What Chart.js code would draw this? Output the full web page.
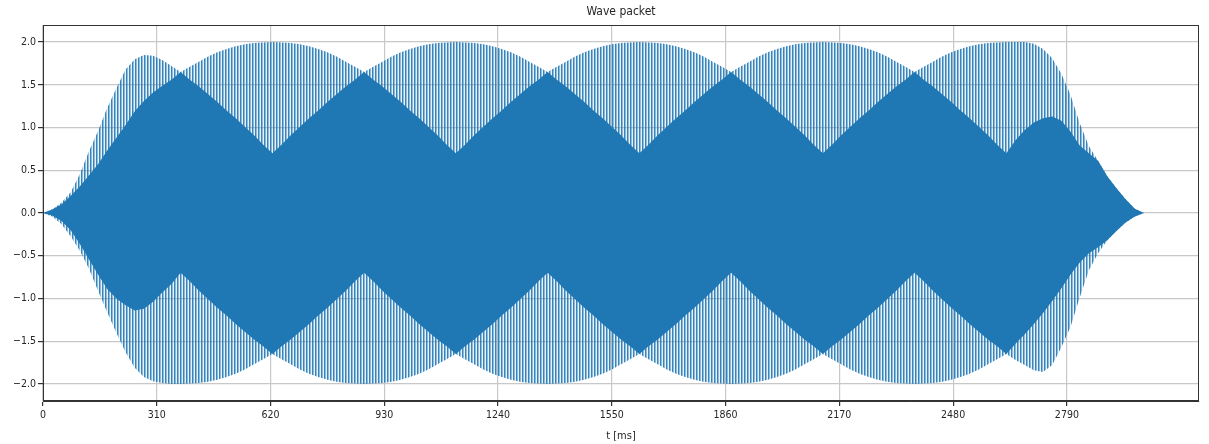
<!DOCTYPE html>
<html>
<head>
<meta charset="utf-8">
<title>Wave packet</title>
<script src="https://cdn.jsdelivr.net/npm/chart.js@4.4.1/dist/chart.umd.min.js"></script>
<style>
  html, body { margin: 0; padding: 0; background: #fff; }
  #wrap { width: 1209px; height: 444px; }
</style>
</head>
<body>
<div id="wrap"><canvas id="waveChart" width="1209" height="444"></canvas></div>
<script>
// sample times [ms]
const t = [0, 25, 50, 75, 100, 125, 150, 175, 200, 225, 250, 275, 300, 325, 350, 375, 400, 425, 450, 475,
  500, 525, 550, 575, 600, 625, 650, 675, 700, 725, 750, 775, 800, 825, 850, 875, 900, 925, 950, 975,
  1000, 1025, 1050, 1075, 1100, 1125, 1150, 1175, 1200, 1225, 1250, 1275, 1300, 1325, 1350, 1375, 1400, 1425, 1450, 1475,
  1500, 1525, 1550, 1575, 1600, 1625, 1650, 1675, 1700, 1725, 1750, 1775, 1800, 1825, 1850, 1875, 1900, 1925, 1950, 1975,
  2000, 2025, 2050, 2075, 2100, 2125, 2150, 2175, 2200, 2225, 2250, 2275, 2300, 2325, 2350, 2375, 2400, 2425, 2450, 2475,
  2500, 2525, 2550, 2575, 2600, 2625, 2650, 2675, 2700, 2725, 2750, 2775, 2800, 2825, 2850, 2875, 2900, 2925, 2950, 2975,
  3000];

// upper edge of the oscillation (peaks reached by every other cycle)
const topOuter = [0, 0.04, 0.12, 0.24, 0.45, 0.72, 0.96, 1.23, 1.46, 1.68, 1.80, 1.85, 1.84, 1.79, 1.72, 1.65,
  1.71, 1.77, 1.83, 1.88, 1.92, 1.95, 1.975, 1.99, 1.995, 2.0, 1.995, 1.99, 1.975, 1.95, 1.92, 1.88, 1.83, 1.77, 1.71, 1.65,
  1.71, 1.77, 1.83, 1.88, 1.92, 1.95, 1.975, 1.99, 1.995, 2.0, 1.995, 1.99, 1.975, 1.95, 1.92, 1.88, 1.83, 1.77, 1.71, 1.65,
  1.71, 1.77, 1.83, 1.88, 1.92, 1.95, 1.975, 1.99, 1.995, 2.0, 1.995, 1.99, 1.975, 1.95, 1.92, 1.88, 1.83, 1.77, 1.71, 1.65,
  1.71, 1.77, 1.83, 1.88, 1.92, 1.95, 1.975, 1.99, 1.995, 2.0, 1.995, 1.99, 1.975, 1.95, 1.92, 1.88, 1.83, 1.77, 1.71, 1.65,
  1.71, 1.77, 1.83, 1.88, 1.92, 1.95, 1.975, 1.99, 1.995, 2.0,
  2.0, 2.0, 1.98, 1.92, 1.81, 1.63, 1.38, 1.05, 0.78, 0.61, 0.43, 0.29, 0.16, 0.05, 0];

// upper edge reached by every cycle (dense part)
const topInner = [0, 0.04, 0.10, 0.20, 0.31, 0.44, 0.57, 0.73, 0.88, 1.03, 1.19, 1.31, 1.41, 1.49, 1.56, 1.65,
  1.56, 1.48, 1.39, 1.30, 1.20, 1.11, 1.01, 0.91, 0.80, 0.70, 0.80, 0.91, 1.01, 1.11, 1.20, 1.30, 1.39, 1.48, 1.56, 1.65,
  1.56, 1.48, 1.39, 1.30, 1.20, 1.11, 1.01, 0.91, 0.80, 0.70, 0.80, 0.91, 1.01, 1.11, 1.20, 1.30, 1.39, 1.48, 1.56, 1.65,
  1.56, 1.48, 1.39, 1.30, 1.20, 1.11, 1.01, 0.91, 0.80, 0.70, 0.80, 0.91, 1.01, 1.11, 1.20, 1.30, 1.39, 1.48, 1.56, 1.65,
  1.56, 1.48, 1.39, 1.30, 1.20, 1.11, 1.01, 0.91, 0.80, 0.70, 0.80, 0.91, 1.01, 1.11, 1.20, 1.30, 1.39, 1.48, 1.56, 1.65,
  1.56, 1.48, 1.39, 1.30, 1.20, 1.11, 1.01, 0.91, 0.80, 0.70,
  0.85, 0.97, 1.06, 1.11, 1.13, 1.08, 0.95, 0.79, 0.70, 0.61, 0.43, 0.29, 0.16, 0.05, 0];

// lower edge reached by every cycle
const bottomInner = [0, -0.03, -0.09, -0.20, -0.36, -0.54, -0.72, -0.89, -1.00, -1.08, -1.14, -1.12, -1.04, -0.93, -0.83, -0.70,
  -0.80, -0.91, -1.01, -1.11, -1.20, -1.30, -1.39, -1.48, -1.56, -1.65,
  -1.56, -1.48, -1.39, -1.30, -1.20, -1.11, -1.01, -0.91, -0.80, -0.70, -0.80, -0.91, -1.01, -1.11, -1.20, -1.30, -1.39, -1.48, -1.56, -1.65,
  -1.56, -1.48, -1.39, -1.30, -1.20, -1.11, -1.01, -0.91, -0.80, -0.70, -0.80, -0.91, -1.01, -1.11, -1.20, -1.30, -1.39, -1.48, -1.56, -1.65,
  -1.56, -1.48, -1.39, -1.30, -1.20, -1.11, -1.01, -0.91, -0.80, -0.70, -0.80, -0.91, -1.01, -1.11, -1.20, -1.30, -1.39, -1.48, -1.56, -1.65,
  -1.56, -1.48, -1.39, -1.30, -1.20, -1.11, -1.01, -0.91, -0.80, -0.70, -0.80, -0.91, -1.01, -1.11, -1.20, -1.30, -1.39, -1.48, -1.56, -1.65,
  -1.53, -1.42, -1.30, -1.17, -1.03, -0.88, -0.72, -0.58, -0.47, -0.40, -0.32, -0.21, -0.11, -0.04, 0];

// lower edge of the oscillation
const bottomOuter = [0, -0.04, -0.13, -0.27, -0.44, -0.65, -0.91, -1.16, -1.40, -1.63, -1.81, -1.92, -1.97, -1.99, -2.0, -2.0,
  -1.995, -1.99, -1.975, -1.95, -1.92, -1.88, -1.83, -1.77, -1.71, -1.65,
  -1.71, -1.77, -1.83, -1.88, -1.92, -1.95, -1.975, -1.99, -1.995, -2.0, -1.995, -1.99, -1.975, -1.95, -1.92, -1.88, -1.83, -1.77, -1.71, -1.65,
  -1.71, -1.77, -1.83, -1.88, -1.92, -1.95, -1.975, -1.99, -1.995, -2.0, -1.995, -1.99, -1.975, -1.95, -1.92, -1.88, -1.83, -1.77, -1.71, -1.65,
  -1.71, -1.77, -1.83, -1.88, -1.92, -1.95, -1.975, -1.99, -1.995, -2.0, -1.995, -1.99, -1.975, -1.95, -1.92, -1.88, -1.83, -1.77, -1.71, -1.65,
  -1.71, -1.77, -1.83, -1.88, -1.92, -1.95, -1.975, -1.99, -1.995, -2.0, -1.995, -1.99, -1.975, -1.95, -1.92, -1.88, -1.83, -1.77, -1.71, -1.65,
  -1.72, -1.78, -1.84, -1.86, -1.78, -1.57, -1.33, -0.99, -0.67, -0.47, -0.32, -0.21, -0.11, -0.04, 0];

const xTicks = [0, 310, 620, 930, 1240, 1550, 1860, 2170, 2480, 2790];
const yTicks = [-2.0, -1.5, -1.0, -0.5, 0.0, 0.5, 1.0, 1.5, 2.0];

const FONT = "'DejaVu Sans Condensed', 'DejaVu Sans', sans-serif";
Chart.defaults.font.family = FONT;
Chart.defaults.color = '#262626';

const canvas = document.getElementById('waveChart');
const ctx = canvas.getContext('2d');

// vertical stripes for the half-covered parts of the packet
const pc = document.createElement('canvas');
pc.width = 3; pc.height = 1;
const pctx = pc.getContext('2d');
pctx.fillStyle = 'rgba(31,119,180,0.9)'; pctx.fillRect(0, 0, 1, 1);
pctx.fillStyle = 'rgba(31,119,180,0.5)'; pctx.fillRect(1, 0, 1, 1);
pctx.fillStyle = 'rgba(31,119,180,0.1)'; pctx.fillRect(2, 0, 1, 1);
const stripes = ctx.createPattern(pc, 'repeat');

const pts = vals => t.map((x, i) => ({ x, y: vals[i] }));

// frame + title centred over the plot area
const framePlugin = {
  id: 'frame',
  afterDatasetsDraw(chart) {
    const { ctx, chartArea: a } = chart;
    ctx.save();
    ctx.strokeStyle = '#333';
    ctx.lineWidth = 1;
    ctx.strokeRect(a.left + 0.5, a.top + 0.5, a.right - a.left - 1, a.bottom - a.top - 1);
    ctx.font = '12px ' + FONT;
    ctx.fillStyle = '#262626';
    ctx.textAlign = 'center';
    ctx.textBaseline = 'middle';
    ctx.fillText('Wave packet', (a.left + a.right) / 2, 12);
    ctx.restore();
  }
};

new Chart(ctx, {
  type: 'line',
  data: {
    datasets: [
      { label: 'inner top', data: pts(topInner), fill: '+1', backgroundColor: '#1f77b4' },
      { label: 'inner bottom', data: pts(bottomInner), fill: false },
      { label: 'outer top', data: pts(topOuter), fill: '+1', backgroundColor: stripes },
      { label: 'outer bottom', data: pts(bottomOuter), fill: false }
    ]
  },
  options: {
    responsive: false,
    animation: false,
    devicePixelRatio: 1,
    layout: { padding: { top: 25, right: 10, left: 0, bottom: 0 } },
    elements: {
      point: { radius: 0 },
      line: { borderWidth: 0, borderColor: 'rgba(0,0,0,0)', tension: 0 }
    },
    plugins: {
      legend: { display: false },
      tooltip: { enabled: false },
      title: { display: false }
    },
    scales: {
      x: {
        type: 'linear',
        min: 0,
        max: 3150,
        afterBuildTicks: s => { s.ticks = xTicks.map(v => ({ value: v })); },
        afterFit: s => { s.height = 43; },
        grid: { color: '#c8c8c8', lineWidth: 1.2, tickLength: 5, tickColor: '#333' },
        border: { display: true, color: '#333', width: 1 },
        ticks: { font: { size: 10.5 }, padding: 3, maxRotation: 0, autoSkip: false, callback: v => String(v) },
        title: { display: true, text: 't [ms]', font: { size: 11 }, padding: { top: 0, bottom: 1 } }
      },
      y: {
        min: -2.2,
        max: 2.2,
        afterBuildTicks: s => { s.ticks = yTicks.map(v => ({ value: v })); },
        afterFit: s => { s.width = 43; },
        grid: { color: '#c8c8c8', lineWidth: 1.2, tickLength: 5, tickColor: '#333' },
        border: { display: true, color: '#333', width: 1 },
        ticks: { font: { size: 10.5 }, padding: 2, callback: v => v.toFixed(1).replace('-', '\u2212') }
      }
    }
  },
  plugins: [framePlugin]
});
</script>
</body>
</html>
